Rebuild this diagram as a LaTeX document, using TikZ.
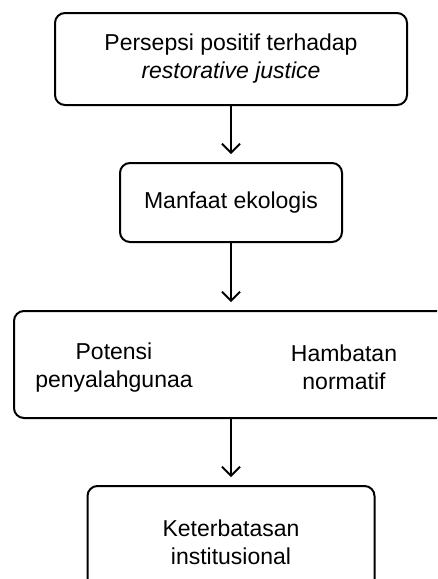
\documentclass[tikz,border=0pt]{standalone}
\usepackage{fontspec}
\setmainfont{Liberation Sans}
\usetikzlibrary{positioning}
\usetikzlibrary{arrows.meta}

\begin{document}
\begin{tikzpicture}[x=1pt,y=1pt,
stage/.style={draw=black, line width=2pt, rounded corners=10pt, rectangle,
align=center, inner sep=0pt, font=\fontsize{23}{28}\selectfont},
    caption/.style={align=center, font=\fontsize{23}{28}\selectfont},
    flow/.style={line width=1.8pt, shorten >=8pt,
-{Straight Barb[length=9pt,width=18pt,line width=1.8pt]}}]
\useasboundingbox (0,0) rectangle (437,-579);
\clip (0,0) rectangle (437,-579);
\node[stage, minimum width=352pt, minimum height=92pt] (persepsi) at (231,-59)
{Persepsi positif terhadap\\\textit{restorative justice}};
\node[stage, minimum width=222pt, minimum height=79pt] (manfaat) [below=56pt of persepsi] {Manfaat ekologis};
\node[stage, minimum width=434pt, minimum height=107pt] (hambatan) [below=67pt of manfaat] {};
\node[caption] (potensi) at ([xshift=-117pt,yshift=-3pt]hambatan.center) {Potensi\\penyalahgunaa};
\node[caption] (normatif) at ([xshift=113pt,yshift=-3pt]hambatan.center) {Hambatan\\normatif};
\node[stage, minimum width=287pt, minimum height=112pt] (keterbatasan) [below=66pt of hambatan] {Keterbatasan\\institusional};

\draw[flow] (persepsi) -- (manfaat);
\draw[flow] (manfaat) -- (hambatan);
\draw[flow] (hambatan) -- (keterbatasan);
\end{tikzpicture}
\end{document}
